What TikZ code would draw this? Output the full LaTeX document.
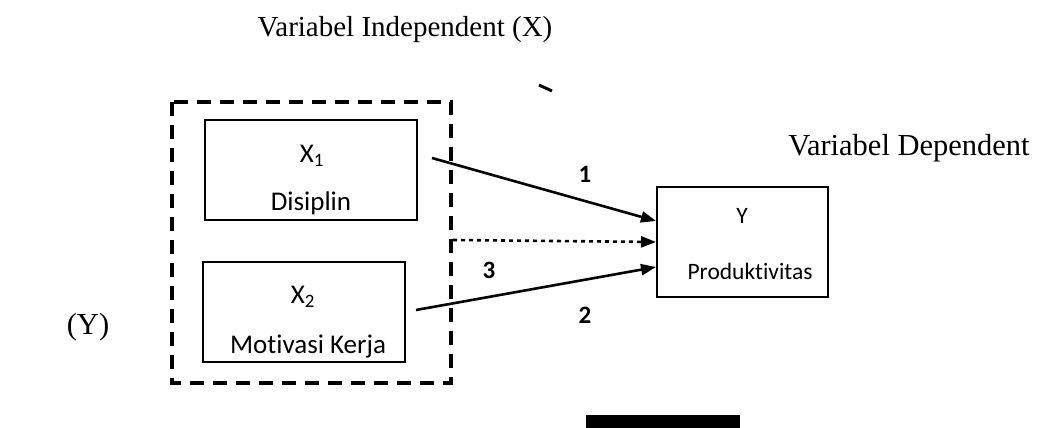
\documentclass[tikz,border=0pt]{standalone}
\usepackage{fontspec}
\setmainfont{Liberation Serif}
\newfontfamily\carlitofont[Ligatures=NoCommon]{Carlito}
\usetikzlibrary{arrows.meta}
\begin{document}
\begin{tikzpicture}[x=1pt,y=-1pt,
  box/.style={draw,line width=2pt,inner sep=0pt},
  lbl/.style={font=\carlitofont\fontsize{27}{29}\selectfont},
  lbly/.style={font=\carlitofont\fontsize{23.5}{26}\selectfont},
  num/.style={font=\carlitofont\bfseries\fontsize{25}{27}\selectfont},
  ttl/.style={font=\fontsize{29}{32}\selectfont},
  arr/.style={line width=2.6pt,-{Triangle[length=15pt,width=11pt]}},
  darr/.style={line width=2.6pt,dash pattern=on 4pt off 4pt,-{Triangle[length=15pt,width=11pt]}}]
\useasboundingbox (0,0) rectangle (1047,428);
% dashed group box
\draw[line width=4pt,dash pattern=on 14pt off 9pt] (172,102) rectangle (451,383);
% boxes
\node[box,minimum width=212pt,minimum height=100pt] (x1) at (311,170) {};
\node[box,minimum width=202pt,minimum height=100pt] (x2) at (304,312) {};
\node[box,minimum width=171pt,minimum height=110pt] (y) at (742.5,242) {};
\node[lbl] (x1a) at (312,156) {X\textsubscript{1}};
\node[lbl] (x1b) at (311,203) {Disiplin};
\node[lbl] (x2a) at (303,297) {X\textsubscript{2}};
\node[lbl] (x2b) at (308,347) {Motivasi Kerja};
\node[lbly] (ya) at (742,216) {Y};
\node[lbly] (yb) at (750,271) {Produktivitas};
% connectors
\coordinate (s1) at (432,158);
\coordinate (s2) at (416,310);
\coordinate (s3) at (453,240);
\draw[arr] (s1) -- (y.west |- 0,221);
\draw[arr] (s2) -- (y.west |- 0,267);
\draw[darr] (s3) -- (y.west |- 0,242);
\node[num] (n1) at (585,174) {1};
\node[num] (n2) at (585,315) {2};
\node[num] (n3) at (489,270) {3};
% titles
\node[ttl] (t1) at (405,30) {Variabel Independent (X)};
\node[ttl,font=\fontsize{30.5}{33}\selectfont] (t2) at (909,148) {Variabel Dependent};
\node[ttl,font=\fontsize{30.5}{33}\selectfont] (t3) at (88,327) {(Y)};
% stray marks
\draw[line width=3pt] (539,85) -- (552,91);
\fill (586,415) rectangle (740,428);
\end{tikzpicture}
\end{document}
